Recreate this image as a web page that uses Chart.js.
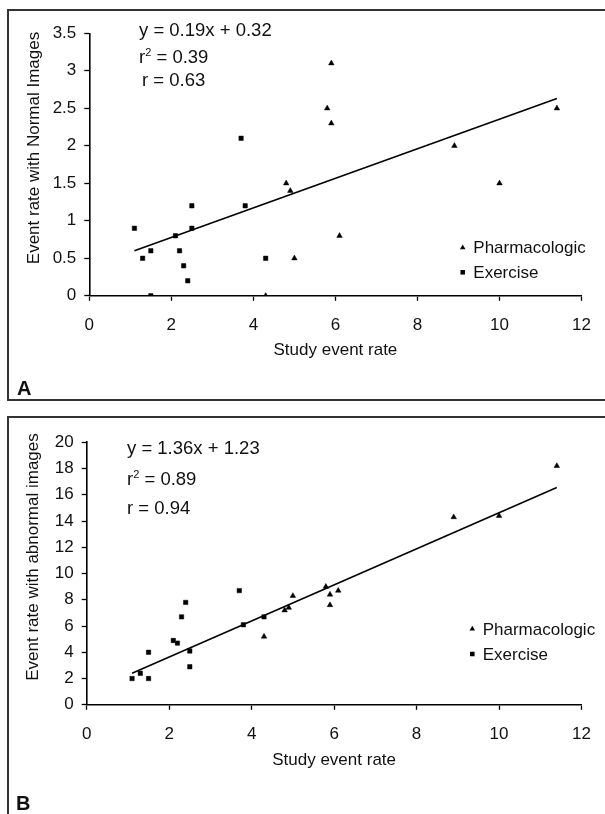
<!DOCTYPE html>
<html>
<head>
<meta charset="utf-8">
<script src="https://cdn.jsdelivr.net/npm/chart.js@4.4.1/dist/chart.umd.min.js"></script>
<style>
  html, body { margin: 0; padding: 0; background: #fff; }
  body {
    width: 605px; height: 814px; position: relative; overflow: hidden;
    font-family: "Liberation Sans", Arial, sans-serif; color: #111;
  }
  .panel { position: absolute; left: 7px; width: 610px; border: 2px solid #333; box-sizing: border-box; }
  #panelA { top: 9px; height: 392px; }
  #panelB { top: 416px; height: 420px; }
  canvas { position: absolute; left: 0; }
  .eq { position: absolute; font-size: 18.5px; line-height: 22px; white-space: nowrap; }
  .eq sup { font-size: 11px; line-height: 0; vertical-align: 7px; }
  .ytitle {
    position: absolute; font-size: 17px; line-height: 20px; white-space: nowrap;
    transform: translate(-50%, -50%) rotate(-90deg);
  }
  .tag { position: absolute; font-weight: bold; font-size: 20px; line-height: 20px; }
</style>
</head>
<body>
<div class="panel" id="panelA"></div>
<div class="panel" id="panelB"></div>

<canvas id="chartA" width="605" height="361" style="top:0px"></canvas>
<canvas id="chartB" width="605" height="361" style="top:410px"></canvas>

<div class="eq" style="left:139px; top:19px">y = 0.19x + 0.32</div>
<div class="eq" style="left:139px; top:46px">r<sup>2</sup> = 0.39</div>
<div class="eq" style="left:142px; top:69px">r = 0.63</div>
<div class="ytitle" style="left:34px; top:148px">Event rate with Normal Images</div>
<div class="tag" style="left:17px; top:378px">A</div>

<div class="eq" style="left:127px; top:437px">y = 1.36x + 1.23</div>
<div class="eq" style="left:127px; top:468px">r<sup>2</sup> = 0.89</div>
<div class="eq" style="left:127px; top:497px">r = 0.94</div>
<div class="ytitle" style="left:33px; top:557px">Event rate with abnormal images</div>
<div class="tag" style="left:16px; top:793px">B</div>

<script>
// study event rate (x) for each group
const exerciseRate = [1.1, 1.3, 1.5, 1.5, 2.1, 2.2, 2.3, 2.4, 2.5, 2.5, 3.7, 3.8, 4.3];
const pharmRate = [4.3, 4.8, 4.9, 5.0, 5.8, 5.9, 5.9, 6.1, 8.9, 10.0, 11.4];

// panel A: event rate with normal images
const exerciseNormal = [0.9, 0.5, 0.6, 0, 0.8, 0.6, 0.4, 0.2, 0.9, 1.2, 2.1, 1.2, 0.5];
const pharmNormal = [0, 1.5, 1.4, 0.5, 2.5, 3.1, 2.3, 0.8, 2.0, 1.5, 2.5];

// panel B: event rate with abnormal images
const exerciseAbnormal = [2.0, 2.4, 2.0, 4.0, 4.9, 4.7, 6.7, 7.8, 4.1, 2.9, 8.7, 6.1, 6.7];
const pharmAbnormal = [5.2, 7.2, 7.4, 8.3, 9.0, 8.4, 7.6, 8.7, 14.3, 14.4, 18.2];

// fitted lines as drawn
const trendRate = [1.1, 11.4];
const trendNormal = [0.6, 2.63];
const trendAbnormal = [2.4, 16.55];

const tickFont = { family: "'Liberation Sans', Arial, sans-serif", size: 17 };

function drawMarker(ctx, style, x, y, r) {
  ctx.beginPath();
  if (style === "triangle") {
    ctx.moveTo(x, y - r);
    ctx.lineTo(x + r * 0.866, y + r / 2);
    ctx.lineTo(x - r * 0.866, y + r / 2);
  } else {
    const s = r * Math.SQRT1_2;
    ctx.rect(x - s, y - s, 2 * s, 2 * s);
  }
  ctx.closePath();
  ctx.fill();
}

// legend drawn inside the plot, like the original
const insideLegend = {
  id: "insideLegend",
  afterDraw(chart, args, opts) {
    const ctx = chart.ctx;
    const items = chart.data.datasets.filter((d) => d.label);
    ctx.save();
    ctx.font = "17px 'Liberation Sans', Arial, sans-serif";
    ctx.textBaseline = "middle";
    items.forEach((d, i) => {
      const y = opts.y + i * opts.rowGap;
      ctx.fillStyle = "#000";
      drawMarker(ctx, d.pointStyle, opts.x, y, 3.2);
      ctx.fillStyle = "#111";
      ctx.fillText(d.label, opts.x + opts.textGap, y + 1);
    });
    ctx.restore();
  },
};

function buildPanel(canvasId, exY, phY, trendY, yMax, yStep, frame, legendPos) {
  const toPts = (xs, ys) => xs.map((x, i) => ({ x, y: ys[i] }));
  const axisGrid = { drawOnChartArea: false, tickLength: 5, tickColor: "#000", tickWidth: 1.3 };
  const axisBorder = { color: "#000", width: 1.6 };
  const plain = (v) => String(v);
  return new Chart(document.getElementById(canvasId), {
    type: "scatter",
    data: {
      datasets: [
        {
          label: "",
          data: toPts(trendRate, trendY),
          showLine: true,
          borderColor: "#000",
          borderWidth: 1.6,
          pointRadius: 0,
        },
        {
          label: "Pharmacologic",
          data: toPts(pharmRate, phY),
          pointStyle: "triangle",
          pointRadius: 3.2,
          pointBorderWidth: 0.5,
          backgroundColor: "#000",
          borderColor: "#000",
        },
        {
          label: "Exercise",
          data: toPts(exerciseRate, exY),
          pointStyle: "rect",
          pointRadius: 3.1,
          pointBorderWidth: 0.5,
          backgroundColor: "#000",
          borderColor: "#000",
        },
      ],
    },
    options: {
      responsive: false,
      animation: false,
      events: [],
      layout: { padding: { top: frame.top, right: frame.right, left: 0, bottom: 0 } },
      plugins: {
        legend: { display: false },
        tooltip: { enabled: false },
        insideLegend: legendPos,
      },
      scales: {
        x: {
          type: "linear",
          min: 0,
          max: 12,
          ticks: { stepSize: 2, padding: 14, color: "#111", font: tickFont, callback: plain },
          grid: axisGrid,
          border: axisBorder,
          title: { display: true, text: "Study event rate", color: "#111", font: tickFont, padding: 0 },
          afterFit: (s) => { s.height = frame.xHeight; },
        },
        y: {
          min: 0,
          max: yMax,
          ticks: { stepSize: yStep, padding: 8, color: "#111", font: tickFont, callback: plain },
          grid: axisGrid,
          border: axisBorder,
          afterFit: (s) => { s.width = frame.yWidth; },
        },
      },
    },
    plugins: [insideLegend],
  });
}

buildPanel("chartA", exerciseNormal, pharmNormal, trendNormal, 3.5, 0.5,
  { yWidth: 89.3, top: 33.3, right: 16.7, xHeight: 65.2 },
  { x: 462.7, y: 247.7, rowGap: 24.6, textGap: 10.6 });

buildPanel("chartB", exerciseAbnormal, pharmAbnormal, trendAbnormal, 20, 2,
  { yWidth: 86.7, top: 32.3, right: 13.3, xHeight: 66.2 },
  { x: 472.3, y: 219, rowGap: 25, textGap: 10.4 });
</script>
</body>
</html>
